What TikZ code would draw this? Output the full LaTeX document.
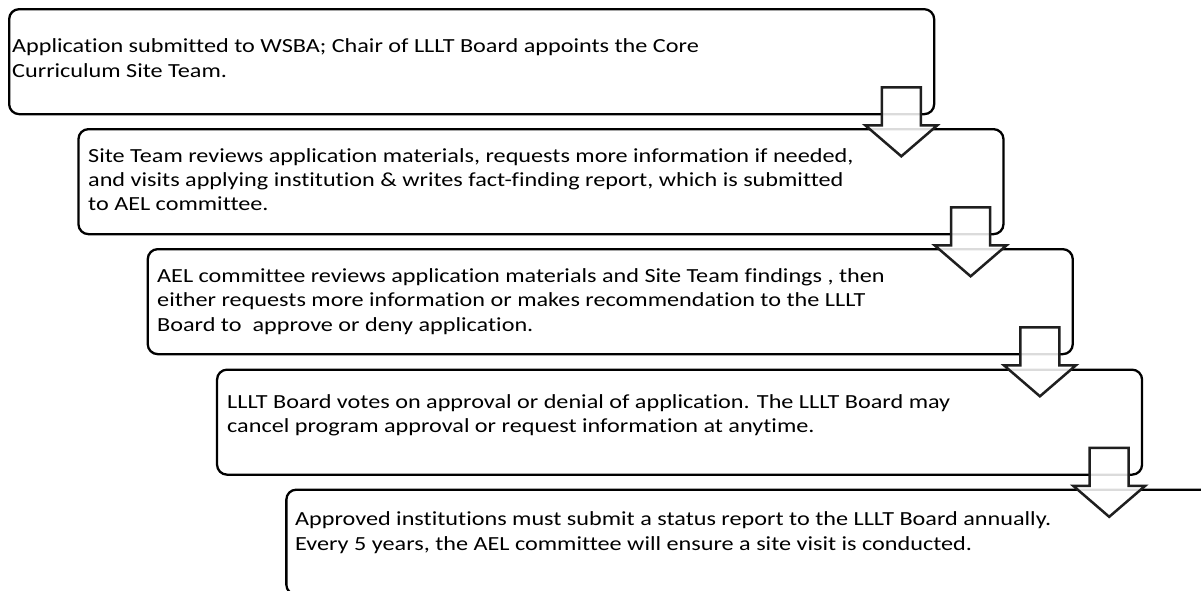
\documentclass[tikz,border=0pt]{standalone}
\usepackage{fontspec}
\setmainfont{Carlito}
\newfontfamily\stepfont{Carlito}[FakeStretch=1.21, Ligatures=NoCommon]
\usetikzlibrary{calc}
\begin{document}
\begin{tikzpicture}[x=1pt,y=-1pt,
  stepbox/.style={draw=black, line width=2.3pt, rounded corners=10pt,
    rectangle, minimum width=925pt, minimum height=105pt, inner sep=0pt,
    anchor=north west},
  % anchor "base west" of a multi-line node sits on its last baseline
  steptext/.style={anchor=base west, inner sep=0pt, align=left,
    font=\stepfont\fontsize{20}{24.4}\selectfont},
  flowarrow/.style={draw=black!88, line width=2.5pt, fill=white,
    fill opacity=0.86, line join=miter}]
\clip (0,0) rectangle (1201,590);
\fill[white] (0,0) rectangle (1201,590);

% the five step boxes, each shifted down and to the right
\node[stepbox] (b1) at (8,8) {};
\node[stepbox] (b2) at (77.3,128) {};
\node[stepbox] (b3) at (146.6,248) {};
\node[stepbox] (b4) at (215.9,368.5) {};
\node[stepbox] (b5) at (285.2,488.5) {};

% step texts (positions given on the last line's baseline)
\node[steptext] (t1) at (12,77) {Application submitted to WSBA; Chair of LLLT Board appoints the Core\\Curriculum Site Team.};
\node[steptext] (t2) at (88,210.8) {Site Team reviews application materials, requests more information if needed,\\and visits applying institution \& writes fact-finding report, which is submitted\\to AEL committee.};
\node[steptext] (t3) at (157,331) {AEL committee reviews application materials and Site Team findings , then\\either requests more information or makes recommendation to the LLLT\\Board to\ \ approve or deny application.};
\node[steptext] (t4) at (227,432.4) {LLLT Board votes on approval or denial of application. The LLLT Board may\\cancel program approval or request information at anytime.};
\node[steptext] (t5) at (295,550) {Approved institutions must submit a status report to the LLLT Board annually.\\Every 5 years, the AEL committee will ensure a site visit is conducted.};

% block arrows leading from each box to the next
\foreach \b in {b1,b2,b3,b4}{
  \begin{scope}[shift={($(\b.south east)+(-34,0)$)}]
    \draw[flowarrow] (-19.5,-28) -- (19.5,-28) -- (19.5,10) -- (36,10)
      -- (0,41) -- (-36,10) -- (-19.5,10) -- cycle;
  \end{scope}
}
\end{tikzpicture}
\end{document}
